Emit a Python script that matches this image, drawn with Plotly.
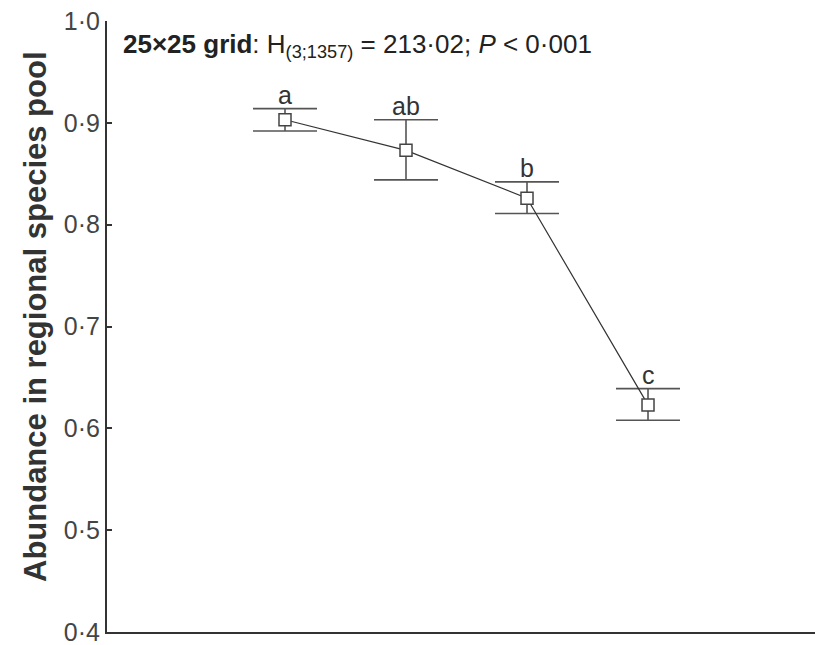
import plotly.graph_objects as go

# Group positions along the x axis (ordered treatment groups)
groups = [1, 2, 3, 4]
# Mean abundance in the regional species pool
means = [0.903, 0.873, 0.826, 0.623]
# Upper and lower error limits
upper = [0.914, 0.903, 0.842, 0.639]
lower = [0.892, 0.844, 0.811, 0.608]
# Post-hoc group letters
letters = ["a", "ab", "b", "c"]

# Y tick values and their labels (middle-dot decimal separator)
ytick_vals = [0.4, 0.5, 0.6, 0.7, 0.8, 0.9, 1.0]
ytick_text = ["0·4", "0·5", "0·6", "0·7", "0·8", "0·9", "1·0"]

err_plus = [u - m for u, m in zip(upper, means)]
err_minus = [m - l for m, l in zip(means, lower)]

ink = "#333333"
font_family = "Liberation Sans, Arial, sans-serif"

fig = go.Figure()
fig.add_trace(go.Scatter(
    x=groups,
    y=means,
    mode="lines+markers",
    line=dict(color=ink, width=1.2),
    marker=dict(symbol="square", size=12, color="white",
                line=dict(color="#444444", width=1.5)),
    error_y=dict(type="data", symmetric=False, array=err_plus,
                 arrayminus=err_minus, color="#555555", thickness=1.6,
                 width=32),
    showlegend=False,
))

for g, u, t in zip(groups, upper, letters):
    fig.add_annotation(x=g, y=u, text=t, showarrow=False, yanchor="bottom",
                       yshift=-2, font=dict(size=25, color=ink, family=font_family))

fig.add_annotation(
    xref="paper", yref="paper", x=(121 - 107) / 708, y=1 - (45 - 21) / 611,
    xanchor="left", yanchor="middle", showarrow=False,
    text="<b>25×25 grid</b>: H<sub>(3;1357)</sub> = 213·02; <i>P</i> &lt; 0·001",
    font=dict(size=26, color="#222222", family=font_family),
)

fig.add_annotation(
    xref="paper", yref="paper", x=(35 - 107) / 708, y=(632 - 317) / 611,
    xanchor="center", yanchor="middle", showarrow=False, textangle=-90,
    text="<b>Abundance in regional species pool</b>",
    font=dict(size=31, color="#333333", family=font_family),
)

fig.update_layout(
    width=815, height=645,
    margin=dict(l=107, r=0, t=21, b=13),
    paper_bgcolor="white", plot_bgcolor="white",
    xaxis=dict(range=[-0.471, 5.38], showgrid=False, zeroline=False,
               showline=True, linecolor=ink, linewidth=2,
               showticklabels=False, ticks=""),
    yaxis=dict(range=[0.4, 1.0], showgrid=False, zeroline=False,
               showline=True, linecolor=ink, linewidth=2,
               tickvals=ytick_vals, ticktext=ytick_text,
               ticklabeloverflow="allow",
               ticks="inside", ticklen=5, tickwidth=1.5, tickcolor=ink,
               tickfont=dict(size=25, color="#444444", family=font_family)),
)

fig.write_html("out.html")
